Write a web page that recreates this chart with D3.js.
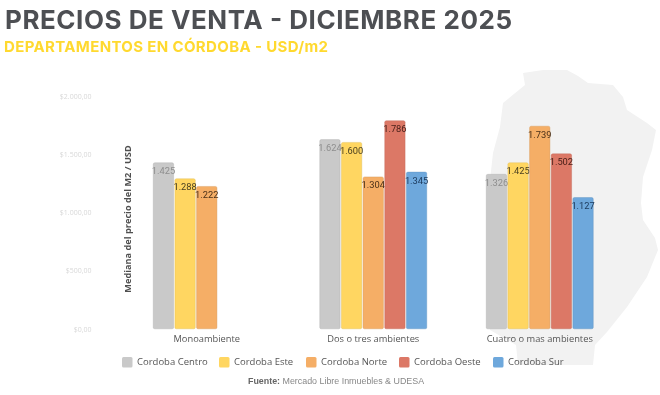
<!DOCTYPE html>
<html>
<head>
<meta charset="utf-8">
<script src="https://cdn.jsdelivr.net/npm/d3@7"></script>
<style>
    html, body { margin: 0; padding: 0; background: #fff; }
    svg { display: block; filter: blur(0.35px); font-family: "Open Sans", sans-serif; }
    .axis path, .axis line { display: none; }
</style>
</head>
<body>
<div class="graph"></div>
<script>
const categorias = ['Monoambiente', 'Dos o tres ambientes', 'Cuatro o mas ambientes']
const zonas = ['Cordoba Centro', 'Cordoba Este', 'Cordoba Norte', 'Cordoba Oeste', 'Cordoba Sur']
const centro = [1425, 1624, 1326]
const este = [1288, 1600, 1425]
const norte = [1222, 1304, 1739]
const oeste = [null, 1786, 1502]
const sur = [null, 1345, 1127]
const yTicks = [0, 500, 1000, 1500, 2000]
const colores = ['#c9c9c9', '#ffd661', '#f5ae66', '#dc7866', '#6ea8dc']
const textoColores = ['#8e8e8e', '#4a4020', '#4a3018', '#4a201a', '#1c3a5c']

const series = [centro, este, norte, oeste, sur]
const locale = d3.formatLocale({decimal: ',', thousands: '.', grouping: [3], currency: ['$', '']})
const fmtValor = locale.format(',d')
const fmtTick = locale.format('$,.2f')

const width = 660, height = 395
const svg = d3.select('.graph').append('svg')
    .attr('width', width)
    .attr('height', height)

// silueta de la provincia, de fondo
svg.append('path')
    .attr('fill', '#f2f2f2')
    .attr('d', 'M523,73 L543,70 L567,70 L578,76 L588,83 L613,85 L623,97 L627,110 L647,123 L656,130 L652,150 L643,177 L641,203 L643,220 L655,238 L658,250 L647,277 L627,307 L607,332 L595,345 L593,365 L518,365 L516,345 L490,330 L488,250 L490,180 L493,153 L500,127 L503,103 L525,85 Z')

svg.append('text')
    .attr('x', 5).attr('y', 29)
    .attr('font-family', 'Inter, sans-serif')
    .attr('font-weight', 700)
    .attr('font-size', 26)
    .attr('fill', '#4d4f53')
    .attr('textLength', 507)
    .attr('lengthAdjust', 'spacing')
    .text('PRECIOS DE VENTA - DICIEMBRE 2025')

svg.append('text')
    .attr('x', 4).attr('y', 51.5)
    .attr('font-family', 'Inter, sans-serif')
    .attr('font-weight', 700)
    .attr('font-size', 15)
    .attr('fill', '#ffd92f')
    .attr('textLength', 324)
    .attr('lengthAdjust', 'spacing')
    .text('DEPARTAMENTOS EN CÓRDOBA - USD/m2')

const xScale = d3.scaleBand()
    .domain(categorias)
    .range([123.5, 623])
const xInner = d3.scaleBand()
    .domain(zonas)
    .range([0, 107])
    .paddingInner(0.06)
const yScale = d3.scaleLinear()
    .domain([0, 2000])
    .range([328.8, 95.8])

const groupLeft = c => xScale(c) + (xScale.bandwidth() - xInner.range()[1]) / 2

const yAxis = svg.append('g')
    .attr('class', 'axis')
    .attr('transform', 'translate(91.5, 0)')
    .call(d3.axisLeft(yScale).tickValues(yTicks).tickFormat(fmtTick).tickSize(0).tickPadding(0))
yAxis.selectAll('text')
    .attr('font-size', 7)
    .attr('font-family', '"Open Sans", sans-serif')
    .attr('fill', '#d8d8d8')

const xAxis = svg.append('g')
    .attr('class', 'axis')
    .attr('transform', 'translate(0, 335.5)')
    .call(d3.axisBottom(xScale).tickSize(0).tickPadding(0))
xAxis.selectAll('text')
    .attr('font-size', 9.3)
    .attr('font-family', '"Open Sans", sans-serif')
    .attr('fill', '#555')

svg.append('text')
    .attr('transform', 'translate(131, 219) rotate(-90)')
    .attr('text-anchor', 'middle')
    .attr('font-size', 9.2)
    .attr('font-weight', 700)
    .attr('fill', '#4f4f4f')
    .text('Mediana del precio del M2 / USD')

series.forEach((valores, i) => {
    const filas = categorias
        .map((c, j) => ({categoria: c, valor: valores[j]}))
        .filter(d => d.valor !== null)
    svg.append('g').selectAll('rect')
        .data(filas)
        .enter().append('rect')
            .attr('x', d => groupLeft(d.categoria) + xInner(zonas[i]))
            .attr('y', d => yScale(d.valor))
            .attr('width', xInner.bandwidth())
            .attr('height', d => yScale(0) - yScale(d.valor))
            .attr('rx', 1.5)
            .attr('fill', colores[i])
            .attr('stroke', d3.color(colores[i]).darker(0.4))
            .attr('stroke-width', 0.4)
    svg.append('g').selectAll('text')
        .data(filas)
        .enter().append('text')
            .attr('x', d => groupLeft(d.categoria) + xInner(zonas[i]) + xInner.bandwidth() / 2)
            .attr('y', d => yScale(d.valor) + 11.5)
            .attr('text-anchor', 'middle')
            .attr('font-size', 9.3)
            .attr('font-family', 'Roboto, sans-serif')
            .attr('fill', textoColores[i])
            .text(d => fmtValor(d.valor))
})

// leyenda
const legendX = d3.scaleOrdinal().domain(zonas).range([122, 219, 306, 399, 493])
const legend = svg.append('g').selectAll('g')
    .data(zonas)
    .enter().append('g')
        .attr('transform', d => `translate(${legendX(d)}, 357)`)
legend.append('rect')
    .attr('width', 10.5)
    .attr('height', 10.5)
    .attr('rx', 1.5)
    .attr('fill', (d, i) => colores[i])
legend.append('text')
    .attr('x', 15)
    .attr('y', 8)
    .attr('font-size', 9.5)
    .attr('fill', '#555')
    .text(d => d)

const fuente = svg.append('text')
    .attr('x', 248).attr('y', 384)
    .attr('font-family', '"Liberation Sans", sans-serif')
    .attr('font-size', 8.9)
    .attr('fill', '#888')
fuente.append('tspan').attr('font-weight', 700).attr('fill', '#666').text('Fuente: ')
fuente.append('tspan').text('Mercado Libre Inmuebles & UDESA')
</script>
</body>
</html>
